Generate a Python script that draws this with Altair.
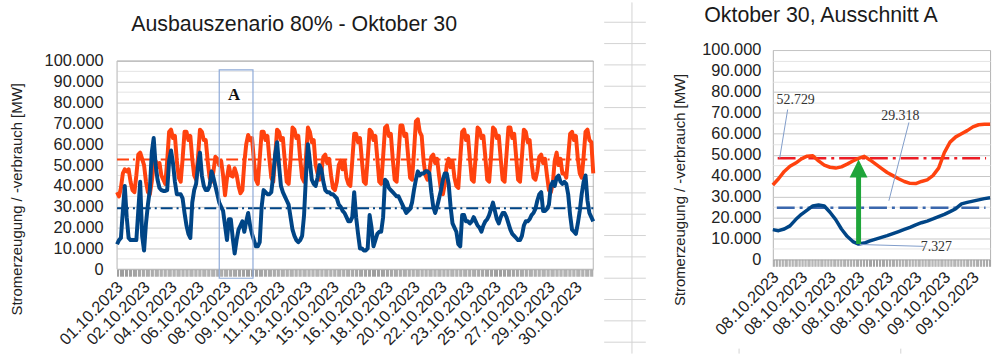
import altair as alt
import pandas as pd

# ---------------- left panel: 01.10.2023 00:00 ... 31.10.2023 21:00, every 3 hours, values in 1000 MW
verbrauch_tage = [
    [37, 35, 39, 46, 48, 47, 48, 42],          # 01.10
    [38, 37, 45, 55, 56, 53, 50, 42],          # 02.10
    [37, 36, 42, 50, 52, 49, 51, 45],          # 03.10
    [43, 41, 52, 66, 67, 63, 64, 52],          # 04.10
    [44, 42, 53, 66, 66, 62, 64, 53],          # 05.10
    [45, 43, 54, 67, 66, 62, 62, 52],          # 06.10
    [44, 42, 47, 54, 53, 50, 52, 45],          # 07.10
    [35.5, 43.5, 49.5, 45, 44.5, 48.5, 45.5, 40],  # 08.10
    [36.5, 38, 51, 60, 64.5, 62, 63, 52],      # 09.10
    [43, 41, 53, 66, 66, 62, 64, 53],          # 10.10
    [44, 42, 54, 67, 66, 62, 63, 52],          # 11.10
    [42, 41, 53, 68, 67, 63, 64, 53],          # 12.10
    [44, 42, 54, 68, 66, 61, 62, 50],          # 13.10
    [46, 43, 47, 54, 55, 51, 53, 45],          # 14.10
    [39, 38, 42, 50, 52, 48, 52, 44],          # 15.10
    [41, 40, 52, 65, 65, 61, 63, 52],          # 16.10
    [42, 41, 53, 67, 66, 62, 64, 53],          # 17.10
    [42, 41, 54, 68, 69, 64, 65, 53],          # 18.10
    [43, 42, 55, 69, 69, 64, 65, 54],          # 19.10
    [44, 43, 56, 71, 72, 66, 64, 52],          # 20.10
    [45, 43, 47, 54, 55, 51, 53, 45],          # 21.10
    [38, 36, 41, 50, 53, 49, 52, 44],          # 22.10
    [40, 39, 53, 66, 67, 62, 64, 53],          # 23.10
    [43, 42, 54, 68, 67, 63, 64, 54],          # 24.10
    [43, 42, 54, 68, 67, 63, 64, 53],          # 25.10
    [43, 42, 55, 68, 68, 63, 65, 54],          # 26.10
    [43, 42, 54, 67, 66, 61, 62, 51],          # 27.10
    [44, 43, 47, 54, 55, 51, 53, 45],          # 28.10
    [38, 37, 41, 52, 56, 50, 53, 46],          # 29.10
    [46, 44, 54, 65, 66, 62, 64, 53],          # 30.10
    [46, 44, 54, 66, 67, 62, 61, 46],          # 31.10
]

erzeugung_tage = [
    [12, 14, 15, 28, 40, 25, 15, 14],          # 01.10
    [14, 14, 14, 28, 42, 16, 9, 22],           # 02.10
    [31, 38, 56, 63, 50, 43, 39, 38],          # 03.10
    [37.6, 37.6, 38, 52, 57, 51, 42, 36],      # 04.10
    [36, 36, 34, 27, 21, 17, 15, 32],          # 05.10
    [38, 41, 50, 56, 45, 40, 38, 38],          # 06.10
    [40, 47, 44, 40, 36, 32, 30, 28],          # 07.10
    [21, 14, 24, 24, 15, 7.6, 14, 19],         # 08.10
    [21, 23, 18, 23, 27, 21, 17, 14],          # 09.10
    [11, 11, 13, 30, 38, 37, 36, 36],          # 10.10
    [37, 45, 55, 61, 50, 40, 37, 35],          # 11.10
    [33, 31, 25, 19, 16, 14, 13, 14],          # 12.10
    [16, 26, 45, 60, 52, 43, 41, 40],          # 13.10
    [44, 50, 48, 42, 38, 37, 37, 36],          # 14.10
    [36, 35, 34, 31, 30, 28, 27, 25],          # 15.10
    [23, 23, 25, 37, 25, 17, 10, 10],          # 16.10
    [9, 9, 10, 26, 20, 11, 14, 17],            # 17.10
    [18, 18, 25, 43, 42, 39, 38, 37],          # 18.10
    [36, 35, 35, 33, 31, 29, 27, 28],          # 19.10
    [29, 32, 38, 43, 47, 45, 46, 46],          # 20.10
    [47, 47, 46, 37, 30, 27, 30, 34],          # 21.10
    [38, 43, 46, 46, 41, 30, 22, 20],          # 22.10
    [18, 12, 11, 26, 26, 23, 23, 22],          # 23.10
    [23, 25, 23, 21, 20, 18, 21, 23],          # 24.10
    [24, 26, 29, 32, 28, 24, 22, 25],          # 25.10
    [27, 27, 25, 22, 19, 17, 16, 15],          # 26.10
    [14, 14, 16, 21, 23, 23, 24, 26],          # 27.10
    [27, 29, 33, 36, 37, 28, 28, 29],          # 28.10
    [31, 40, 42, 40, 44, 45, 42, 41],          # 29.10
    [42, 41, 36, 26, 19, 18, 17, 22],          # 30.10
    [28, 36, 42, 45, 33, 27, 25, 23],          # 31.10
]

schritt_h = 3
mittel_verbrauch = 52729
mittel_erzeugung = 29318

# ---------------- right panel (Ausschnitt A): 08.10.2023 00:00 ... 09.10.2023 14:00, hourly, 1000 MW
verbrauch_A = [35.5, 38.5, 42, 44.5, 46, 48, 49.3, 49.5, 47, 45, 44, 43.6, 44.2, 45.5,
               47, 48.2, 49.2, 47.5, 45.5, 43.5, 41.5, 40, 38.5, 37.2, 36.3, 36.2, 37.2,
               38, 40, 43.6, 51, 56, 58.5, 60, 61.5, 63.3, 64.3, 64.5, 64.5]
erzeugung_A = [14.2, 13.7, 14.5, 16, 19, 21.5, 23.5, 25.5, 26, 25.5, 22.5, 19, 14.5, 11,
               8.5, 7.3, 7.8, 8.8, 9.7, 10.5, 11.3, 12.3, 13.3, 14.3, 15.3, 16.5, 17.5,
               18.3, 19.3, 20.4, 21.5, 22.8, 24.2, 26.5, 27.2, 27.8, 28.4, 29.0, 29.4]
linie_verbrauch_A = 48300
linie_erzeugung_A = 24600
minimum_A = 7327
labels_A = ["52.729", "29.318", "7.327"]

titel = ["Ausbauszenario 80% - Oktober 30", "Oktober 30, Ausschnitt A"]

ORANGE = "#ff420e"
BLUE = "#004586"
FONT = "Liberation Sans"

# ---------------- data frames
n = len(verbrauch_tage) * 8
hours = [i * schritt_h for i in range(n)]
df_left = pd.DataFrame({
    "h": hours,
    "verbrauch": [v * 1000 for d in verbrauch_tage for v in d],
    "erzeugung": [v * 1000 for d in erzeugung_tage for v in d],
})
HMAX = hours[-1]

df_right = pd.DataFrame({
    "h": list(range(len(verbrauch_A))),
    "verbrauch": [v * 1000 for v in verbrauch_A],
    "erzeugung": [v * 1000 for v in erzeugung_A],
})
HMAX_A = len(verbrauch_A) - 1

grid_color = {"condition": {"test": "datum.value % 10000 == 0", "value": "#c6c6c6"}, "value": "#e4e4e4"}
ylabel_expr = "datum.value % 10000 == 0 ? replace(format(datum.value, ',d'), ',', '.') : ''"


def y_axis(title_x, title_y, pad):
    return alt.Axis(
        values=list(range(0, 100001, 5000)), ticks=False, tickSize=0, domain=False,
        gridColor=grid_color, gridWidth=1, labelExpr=ylabel_expr, labelOverlap=False,
        labelPadding=pad, labelFont=FONT, labelFontSize=16.5, labelColor="#222222",
        title="Stromerzeugung / -verbrauch [MW]", titleFont=FONT, titleFontSize=15,
        titleFontWeight="normal", titleColor="#222222", titleX=title_x, titleY=title_y,
    )


# ---------------- left chart
x_axis_left = alt.Axis(
    values=list(range(0, HMAX + 1, 2)), tickSize=7, tickColor="#9c9c9c", tickWidth=1,
    domain=False, grid=False, labelOverlap=False, labelFlush=False,
    labelExpr="datum.value % 42 == 0 ? ((floor(datum.value/24)+1 < 10 ? '0' : '') + (floor(datum.value/24)+1) + '.10.2023') : ''",
    labelAngle=-45, labelAlign="right", labelBaseline="middle", labelPadding=8, labelOffset=3,
    labelFont=FONT, labelFontSize=16.5, labelColor="#222222", title=None,
)
x_scale_left = alt.Scale(domain=[0, HMAX], nice=False, zero=False)
y_scale_left = alt.Scale(domain=[0, 105238], nice=False)
y_axis_left = y_axis(-93, 150, 14)


def XL(f):
    return alt.X(f, type="quantitative", scale=x_scale_left, axis=x_axis_left)


def YL(f):
    return alt.Y(f, type="quantitative", scale=y_scale_left, axis=y_axis_left)


df_frame = pd.DataFrame({"h": [0], "h2": [HMAX], "v": [0], "v2": [100000]})
frame_left = alt.Chart(df_frame).mark_rect(fillOpacity=0, stroke="#b3b3b3", strokeWidth=1).encode(
    x=XL("h"), x2="h2", y=YL("v"), y2="v2")

df_ref_left = pd.DataFrame({"h": [0, 0], "h2": [HMAX, HMAX], "v": [mittel_verbrauch, mittel_erzeugung],
                            "farbe": [ORANGE, BLUE]})
ref_left = alt.Chart(df_ref_left).mark_rule(strokeWidth=2, strokeDash=[12, 4, 2, 4]).encode(
    x=XL("h"), x2="h2", y=YL("v"), color=alt.Color("farbe:N", scale=None))

line_v = alt.Chart(df_left).mark_line(color=ORANGE, strokeWidth=4, strokeJoin="round").encode(
    x=XL("h"), y=YL("verbrauch"))
line_e = alt.Chart(df_left).mark_line(color=BLUE, strokeWidth=4, strokeJoin="round").encode(
    x=XL("h"), y=YL("erzeugung"))

df_box = pd.DataFrame({"h": [159], "h2": [211.5], "v": [-4300], "v2": [95700]})
box_a = alt.Chart(df_box).mark_rect(fillOpacity=0, stroke="#8eaad8", strokeWidth=1.2).encode(
    x=XL("h"), x2="h2", y=YL("v"), y2="v2")
df_a = pd.DataFrame({"h": [182], "v": [83800], "t": ["A"]})
text_a = alt.Chart(df_a).mark_text(font="Liberation Serif", fontSize=17, fontWeight="bold",
                                   color="#111111", baseline="middle").encode(
    x=XL("h"), y=YL("v"), text="t:N")

left = alt.layer(frame_left, ref_left, line_v, line_e, box_a, text_a).properties(
    width=480, height=221,
    view=alt.ViewBackground(stroke="transparent"),
)

# ---------------- middle: spreadsheet cell lines between the charts and the titles (pixel positions,
# relative to the middle panel's origin at 657/48 of the page)
rows_px = [20 + 21.5 * i for i in range(16)]
df_sheet = pd.DataFrame(
    [{"x": -49, "x2": -7, "y": r - 48, "y2": r - 48} for r in rows_px]
    + [{"x": -21, "x2": -21, "y": -48, "y2": 306},
       {"x": 87, "x2": 87, "y": 301, "y2": 306},
       {"x": 250, "x2": 250, "y": 301, "y2": 306}]
)
sheet = alt.Chart(df_sheet).mark_rule(color="#d2d2d2", strokeWidth=1).encode(
    x=alt.X("x:Q", scale=None, axis=None), x2="x2",
    y=alt.Y("y:Q", scale=None, axis=None), y2="y2")
df_canvas = pd.DataFrame({"x": [-657], "x2": [343], "y": [-48], "y2": [306]})
canvas = alt.Chart(df_canvas).mark_rect(opacity=0).encode(
    x=alt.X("x:Q", scale=None, axis=None), x2="x2",
    y=alt.Y("y:Q", scale=None, axis=None), y2="y2")
df_titles = pd.DataFrame({"x": [-361.5, 169.5], "y": [-19, -28.5], "t": titel})
titles = alt.Chart(df_titles).mark_text(font=FONT, fontSize=21.5, color="#1a1a1a", align="center",
                                        baseline="alphabetic").encode(
    x=alt.X("x:Q", scale=None, axis=None), y=alt.Y("y:Q", scale=None, axis=None), text="t:N")
middle = alt.layer(canvas, sheet, titles).properties(width=61, height=221,
                                                     view=alt.ViewBackground(stroke="transparent"))

# ---------------- right chart
x_axis_right = alt.Axis(
    values=[i * 0.25 for i in range(HMAX_A * 4 + 1)], tickSize=7, tickColor="#a0a0a0", tickWidth=1,
    domain=False, grid=False, labelOverlap=False, labelFlush=False,
    labelExpr="datum.value % 5 == 0 ? (datum.value < 24 ? '08.10.2023' : '09.10.2023') : ''",
    labelAngle=-45, labelAlign="right", labelBaseline="middle", labelPadding=8, labelOffset=3,
    labelFont=FONT, labelFontSize=16.5, labelColor="#222222", title=None,
)
x_scale_right = alt.Scale(domain=[0, HMAX_A], nice=False, zero=False)
y_scale_right = alt.Scale(domain=[0, 100000], nice=False)
y_axis_right = y_axis(-86, 140.5, 12)


def XR(f):
    return alt.X(f, type="quantitative", scale=x_scale_right, axis=x_axis_right)


def YR(f):
    return alt.Y(f, type="quantitative", scale=y_scale_right, axis=y_axis_right)


df_ref_right = pd.DataFrame({"h": [0.85, 0.7], "h2": [37.3, 37.2], "v": [linie_verbrauch_A, linie_erzeugung_A],
                             "farbe": ["#ec1c24", "#3a67ad"]})
ref_right = alt.Chart(df_ref_right).mark_rule(strokeWidth=2.5, strokeDash=[18, 5, 3, 5]).encode(
    x=XR("h"), x2="h2", y=YR("v"), color=alt.Color("farbe:N", scale=None))

line_v_r = alt.Chart(df_right).mark_line(color=ORANGE, strokeWidth=3.5, strokeJoin="round").encode(
    x=XR("h"), y=YR("verbrauch"))
line_e_r = alt.Chart(df_right).mark_line(color=BLUE, strokeWidth=3.5, strokeJoin="round").encode(
    x=XR("h"), y=YR("erzeugung"))

df_lead = pd.DataFrame({"h": [2.6, 23.8, 15.2], "h2": [1.2, 20.3, 26.4],
                        "v": [71600, 65400, 7100], "v2": [48300, 28000, 6200]})
leaders = alt.Chart(df_lead).mark_rule(color="#7f9cc9", strokeWidth=1).encode(
    x=XR("h"), x2="h2", y=YR("v"), y2="v2")
df_lab = pd.DataFrame({"h": [4.0, 22.3, 28.6], "v": [76300, 68700, 5700], "t": labels_A})
labels = alt.Chart(df_lab).mark_text(font="Liberation Serif", fontSize=14, color="#333333",
                                     baseline="middle").encode(x=XR("h"), y=YR("v"), text="t:N")

GREEN = "#1fa53a"
df_shaft = pd.DataFrame({"h": [15.0], "v": [minimum_A], "v2": [39500]})
shaft = alt.Chart(df_shaft).mark_rule(color=GREEN, strokeWidth=5).encode(
    x=XR("h"), y=YR("v"), y2="v2")
df_head = pd.DataFrame({"h": [15.0], "v": [43400]})
head = alt.Chart(df_head).mark_point(shape="M0,-1L1,1L-1,1Z", size=324, filled=True, color=GREEN,
                                     opacity=1).encode(x=XR("h"), y=YR("v"))

right = alt.layer(ref_right, line_v_r, line_e_r, leaders, labels, shaft, head).properties(
    width=219, height=211,
    view=alt.ViewBackground(stroke="#b3b3b3"),
)

chart = alt.hconcat(left, middle, right, spacing=60, bounds="flush").properties(
    padding=0, background="#ffffff")

chart.save("out.html", embed_options={"renderer": "svg", "actions": False})
